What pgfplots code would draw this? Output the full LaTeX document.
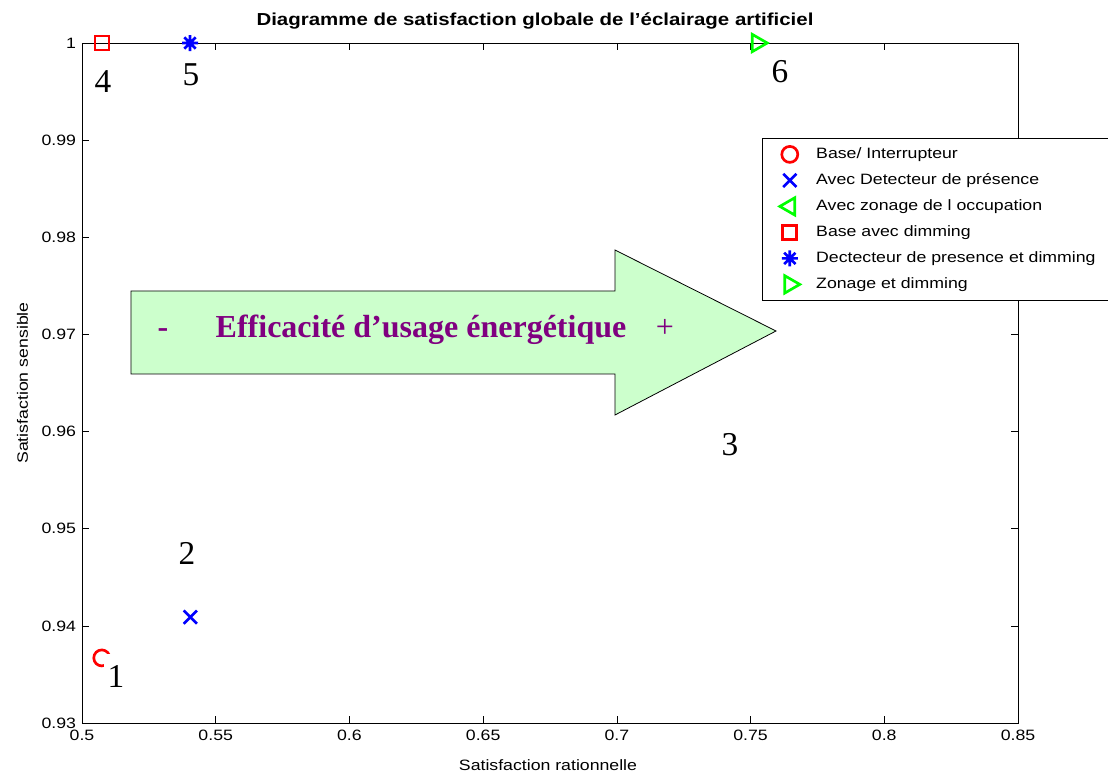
\documentclass[border=0pt]{standalone}
\usepackage{pgfplots}
\pgfplotsset{compat=1.18}
\usepackage{fontspec}
\setmainfont{Liberation Sans}[FakeStretch=1.18]
\newfontfamily\tnr{Liberation Serif}
\definecolor{arrowgreen}{RGB}{204,255,204}
\definecolor{purp}{RGB}{128,0,128}
\definecolor{mred}{RGB}{255,0,0}
\definecolor{mblue}{RGB}{0,0,255}
\definecolor{mgreen}{RGB}{0,255,0}
\pgfdeclareplotmark{mstar}{%
  \pgfpathmoveto{\pgfqpoint{-\pgfplotmarksize}{0pt}}\pgfpathlineto{\pgfqpoint{\pgfplotmarksize}{0pt}}%
  \pgfpathmoveto{\pgfqpoint{0pt}{-\pgfplotmarksize}}\pgfpathlineto{\pgfqpoint{0pt}{\pgfplotmarksize}}%
  \pgfpathmoveto{\pgfqpoint{-.7071\pgfplotmarksize}{-.7071\pgfplotmarksize}}\pgfpathlineto{\pgfqpoint{.7071\pgfplotmarksize}{.7071\pgfplotmarksize}}%
  \pgfpathmoveto{\pgfqpoint{-.7071\pgfplotmarksize}{.7071\pgfplotmarksize}}\pgfpathlineto{\pgfqpoint{.7071\pgfplotmarksize}{-.7071\pgfplotmarksize}}%
  \pgfusepathqstroke}
\pgfplotsset{mylegimg/.style={legend image code/.code={\path (0pt,0pt) (27pt,0pt); \draw[##1] plot coordinates {(10pt,0pt)};}}}
\newcommand{\lbl}{\fontsize{11.25}{13}\selectfont}
\begin{document}
\begin{tikzpicture}[x=0.75pt,y=0.75pt]
\useasboundingbox (-82,-52) rectangle (1026,723);
\begin{axis}[
  at={(0,0)}, anchor=south west, scale only axis, width=702pt, height=510pt,
  xmin=0.5, xmax=0.85, ymin=0.93, ymax=1,
  xtick={0.5,0.55,0.6,0.65,0.7,0.75,0.8,0.85},
  ytick={0.93,0.94,0.95,0.96,0.97,0.98,0.99,1},
  scaled ticks=false,
  /pgf/number format/assume math mode=true,
  tick label style={font=\lbl, /pgf/number format/fixed, /pgf/number format/precision=2},
  xticklabel style={yshift=-2pt},
  yticklabel style={xshift=-1pt},
  tick align=inside, major tick length=5.25pt,
  tick style={black, line width=0.5pt},
  axis line style={black, line width=0.6pt},
  clip=false,
  legend cell align=left,
  legend style={at={(axis description cs:0.7265,0.8603)}, anchor=north west,
    draw=black, line width=0.6pt, fill=white, inner xsep=10.25pt, inner ysep=2.25pt,
    row sep=0pt, font=\lbl,
    nodes={inner sep=0pt, text height=13pt, text depth=6.5pt},
    /tikz/every odd column/.append style={column sep=2.5pt}},
]
\addplot[only marks, mark=o, mark size=6pt, color=mred, mark options={line width=2pt}, mylegimg] coordinates {(0.5074,0.9367)};
\addplot[only marks, mark=x, mark size=7pt, color=mblue, mark options={line width=2pt}, mylegimg] coordinates {(0.5405,0.9409)};
\addplot[only marks, mark=triangle, mark size=7.5pt, color=mgreen, mark options={line width=2pt, rotate=90}, mylegimg] coordinates {(0.735,0.9703)};
\addplot[only marks, mark=square, mark size=5.25pt, color=mred, mark options={line width=2pt}, mylegimg] coordinates {(0.5075,1.0)};
\addplot[only marks, mark=mstar, mark size=6pt, color=mblue, mark options={line width=2pt}, mylegimg] coordinates {(0.5404,1.0)};
\addplot[only marks, mark=triangle, mark size=7.5pt, color=mgreen, mark options={line width=2pt, rotate=-90}, mylegimg] coordinates {(0.7525,1.0)};
\legend{Base/ Interrupteur, Avec Detecteur de présence, Avec zonage de l occupation, Base avec dimming, Dectecteur de presence et dimming, Zonage et dimming}
\end{axis}
% arrow annotation (pixel-based coordinates)
\draw[fill=arrowgreen, draw=black, line width=0.6pt] (49,432) -- (533,432) -- (533,473) -- (694,392) -- (533,308) -- (533,349) -- (49,349) -- cycle;
\node[anchor=base, text=purp, font=\tnr\bfseries\fontsize{24}{28}\selectfont] at (81,385) {-};
\node[anchor=base, text=purp, font=\tnr\bfseries\fontsize{24}{28}\selectfont] at (339,385) {Efficacité d’usage énergétique};
\node[anchor=base, text=purp, font=\tnr\fontsize{24}{28}\selectfont] at (583,385) {+};
% point numbers
\node[font=\tnr\fontsize{25}{28}\selectfont, fill=white, inner xsep=3pt, inner ysep=8pt] at (34,47) {1};
\node[font=\tnr\fontsize{25}{28}\selectfont, inner sep=0pt] at (105,170) {2};
\node[font=\tnr\fontsize{25}{28}\selectfont, inner sep=0pt] at (648,278) {3};
\node[font=\tnr\fontsize{25}{28}\selectfont, inner sep=0pt] at (21,641) {4};
\node[font=\tnr\fontsize{25}{28}\selectfont, inner sep=0pt] at (109,648) {5};
\node[font=\tnr\fontsize{25}{28}\selectfont, inner sep=0pt] at (698,651) {6};
% title and axis labels
\node[anchor=base, font=\fontsize{13}{15}\selectfont\bfseries] at (453,697) {Diagramme de satisfaction globale de l'éclairage artificiel};
\node[anchor=base, font=\lbl] at (466,-48) {Satisfaction rationnelle};
\node[anchor=base, rotate=90, font=\lbl] at (-54,340) {Satisfaction sensible};
\end{tikzpicture}
\end{document}
